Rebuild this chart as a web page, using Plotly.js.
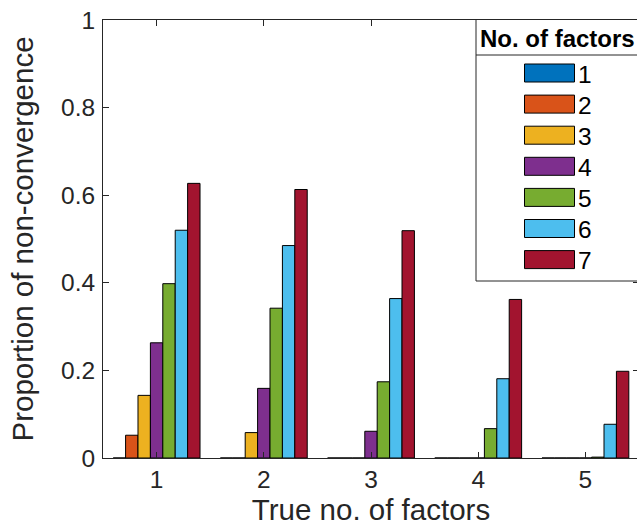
<!DOCTYPE html>
<html>
<head>
<meta charset="utf-8">
<script src="https://cdn.plot.ly/plotly-3.0.1.min.js"></script>
<style>
html, body { margin: 0; padding: 0; overflow: hidden; background: #fff; }
#chart { width: 640px; height: 526px; }
</style>
</head>
<body>
<div id="chart"></div>
<script>
// ---- Data ----
const trueFactors = [1, 2, 3, 4, 5];
const seriesNames = ['1', '2', '3', '4', '5', '6', '7'];
const nf1 = [0, 0, 0, 0, 0];
const nf2 = [0.052, 0, 0, 0, 0];
const nf3 = [0.143, 0.058, 0, 0, 0];
const nf4 = [0.263, 0.159, 0.061, 0, 0];
const nf5 = [0.398, 0.342, 0.174, 0.067, 0.002];
const nf6 = [0.520, 0.485, 0.364, 0.181, 0.077];
const nf7 = [0.627, 0.613, 0.519, 0.362, 0.198];
const seriesValues = [nf1, nf2, nf3, nf4, nf5, nf6, nf7];
const seriesColors = ['#0072BD', '#D95319', '#EDB120', '#7E2F8E', '#77AC30', '#4DBEEE', '#A2142F'];
const xTickLabels = ['1', '2', '3', '4', '5'];
const yTickVals = [0, 0.2, 0.4, 0.6, 0.8, 1];
const yTickLabels = ['0', '0.2', '0.4', '0.6', '0.8', '1'];
const legendTitle = 'No. of factors';
const xTitle = 'True no. of factors';
const yTitle = 'Proportion of non-convergence';

// ---- Layout helpers ----
const W = 640, H = 526;
const M = { l: 103, r: 1, t: 20, b: 68 };
const plotW = W - M.l - M.r, plotH = H - M.t - M.b;
const px = v => (v - M.l) / plotW;        // pixel x -> paper x
const py = v => (H - M.b - v) / plotH;    // pixel y -> paper y

const FONT = 'Liberation Sans, Arial, sans-serif';
const AX = '#262626';

const traces = seriesValues.map((vals, i) => ({
  type: 'bar',
  name: seriesNames[i],
  x: trueFactors,
  y: vals,
  marker: { color: seriesColors[i], line: { color: '#000000', width: 1 } },
  showlegend: false,
  hoverinfo: 'x+y+name'
}));

// ---- Custom legend (MATLAB style) ----
const shapes = [];
const annotations = [];
shapes.push({ type: 'rect', xref: 'paper', yref: 'paper',
  x0: px(476), x1: px(645), y0: py(281), y1: py(19.5),
  line: { color: AX, width: 1 }, fillcolor: '#ffffff', layer: 'above' });
shapes.push({ type: 'line', xref: 'paper', yref: 'paper',
  x0: px(476), x1: px(645), y0: py(55), y1: py(55),
  line: { color: AX, width: 1 }, layer: 'above' });
annotations.push({ xref: 'paper', yref: 'paper', x: px(557), y: py(38),
  text: '<b>' + legendTitle + '</b>', showarrow: false, xanchor: 'center', yanchor: 'middle',
  font: { family: FONT, size: 24, color: '#000000' } });
seriesNames.forEach((name, i) => {
  const cy = 73 + 31.1 * i;
  shapes.push({ type: 'rect', xref: 'paper', yref: 'paper',
    x0: px(524.5), x1: px(574.5), y0: py(cy + 9), y1: py(cy - 9),
    fillcolor: seriesColors[i], line: { color: '#000000', width: 1 }, layer: 'above' });
  annotations.push({ xref: 'paper', yref: 'paper', x: px(576), y: py(cy + 1),
    text: name, showarrow: false, xanchor: 'left', yanchor: 'middle',
    font: { family: FONT, size: 24.5, color: '#000000' } });
});

const layout = {
  width: W, height: H,
  margin: M,
  paper_bgcolor: '#ffffff', plot_bgcolor: '#ffffff',
  font: { family: FONT, size: 24.5, color: AX },
  barmode: 'group', bargap: 0.19, bargroupgap: 0,
  showlegend: false,
  xaxis: {
    range: [0.5, 5.5], tickvals: trueFactors, ticktext: xTickLabels,
    ticks: 'inside', ticklen: 6, tickcolor: AX, tickwidth: 1,
    showline: true, linecolor: AX, linewidth: 1, mirror: 'ticks',
    showgrid: false, zeroline: false,
    tickfont: { family: FONT, size: 24.5, color: AX },
    title: { text: xTitle, font: { family: FONT, size: 29.5, color: AX }, standoff: 9 }
  },
  yaxis: {
    range: [0, 1], tickvals: yTickVals, ticktext: yTickLabels,
    ticks: 'inside', ticklen: 6, tickcolor: AX, tickwidth: 1,
    showline: true, linecolor: AX, linewidth: 1, mirror: 'ticks',
    showgrid: false, zeroline: false, ticklabelstandoff: 2,
    tickfont: { family: FONT, size: 24.5, color: AX },
    title: { text: yTitle, font: { family: FONT, size: 29.5, color: AX }, standoff: 18 }
  },
  shapes: shapes,
  annotations: annotations
};

Plotly.newPlot('chart', traces, layout, { displayModeBar: false, staticPlot: true });
</script>
</body>
</html>
